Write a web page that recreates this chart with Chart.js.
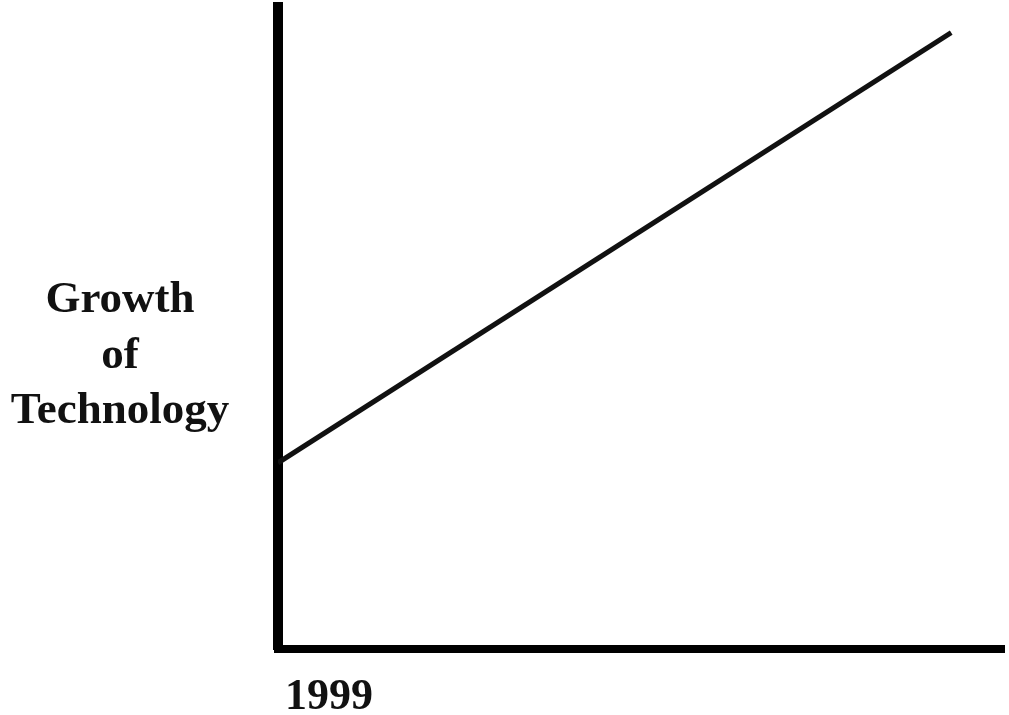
<!DOCTYPE html>
<html>
<head>
<meta charset="utf-8">
<script src="https://cdn.jsdelivr.net/npm/chart.js@4/dist/chart.umd.min.js"></script>
<style>
  html, body { margin: 0; padding: 0; background: #ffffff; }
  #wrap { position: relative; width: 1009px; height: 715px; }
  canvas { display: block; }
</style>
</head>
<body>
<div id="wrap"><canvas id="c" width="1009" height="715"></canvas></div>
<script>
// ---- data ----
const YEARS = [1999, 2009.2];          // x positions of the line's ends
const GROWTH = [29, 96];               // growth of technology (0..100 scale)
const X_TICKS = [1999];                // labelled ticks on the x axis
const X_RANGE = [1999, 2010];
const Y_RANGE = [0, 100];
const Y_LABEL_LINES = ['Growth', 'of', 'Technology'];

const serif = '"Liberation Serif", "DejaVu Serif", "Times New Roman", serif';

const yLabelPlugin = {
  id: 'yLabel',
  afterDraw(chart) {
    const ctx = chart.ctx;
    ctx.save();
    ctx.fillStyle = '#111111';
    ctx.font = 'bold 45px ' + serif;
    ctx.textAlign = 'center';
    ctx.textBaseline = 'alphabetic';
    const cx = 120, y0 = 312, step = 55.5;
    Y_LABEL_LINES.forEach((t, i) => ctx.fillText(t, cx, y0 + i * step));
    ctx.restore();
  }
};

new Chart(document.getElementById('c'), {
  type: 'line',
  data: {
    datasets: [{
      data: YEARS.map((x, i) => ({ x: x, y: GROWTH[i] })),
      borderColor: '#111111',
      borderWidth: 5,
      pointRadius: 0,
      fill: false,
      tension: 0
    }]
  },
  options: {
    responsive: false,
    animation: false,
    layout: { padding: { left: 268, right: 5, top: 7, bottom: 0 } },
    plugins: { legend: { display: false }, tooltip: { enabled: false } },
    scales: {
      x: {
        type: 'linear',
        min: X_RANGE[0],
        max: X_RANGE[1],
        afterFit: s => { s.height = 66; },
        afterBuildTicks: s => { s.ticks = X_TICKS.map(v => ({ value: v })); },
        grid: { display: true, drawOnChartArea: false, drawTicks: false, color: 'rgba(0,0,0,0)' },
        border: { display: true, color: '#000000', width: 8 },
        ticks: {
          autoSkip: false,
          align: 'start',
          labelOffset: 7,
          padding: 22,
          color: '#111111',
          font: { family: serif, size: 44, weight: 'bold' },
          callback: v => String(v)
        }
      },
      y: {
        min: Y_RANGE[0],
        max: Y_RANGE[1],
        afterFit: s => { s.width = 10; },
        grid: { display: true, drawOnChartArea: false, drawTicks: false, color: 'rgba(0,0,0,0)' },
        border: { display: true, color: '#000000', width: 10 },
        ticks: { display: false }
      }
    }
  },
  plugins: [yLabelPlugin]
});
</script>
</body>
</html>
